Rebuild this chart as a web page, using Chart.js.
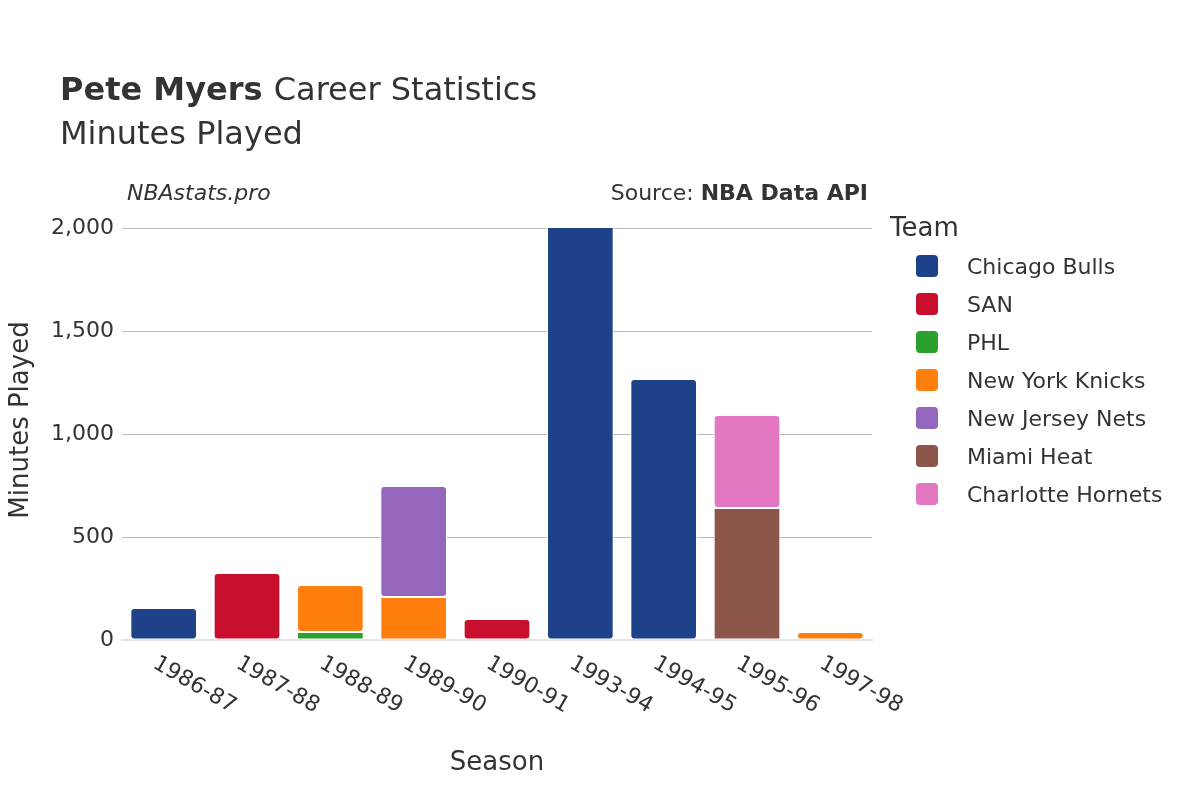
<!DOCTYPE html>
<html><head><meta charset="utf-8">
<script src="https://cdn.jsdelivr.net/npm/chart.js@4"></script>
<style>html,body{margin:0;padding:0;background:#fff}#w{width:1200px;height:800px}</style>
</head><body><div id="w"><canvas id="c" width="1200" height="800"></canvas></div>
<script>
const seasons = ["1986-87","1987-88","1988-89","1989-90","1990-91","1993-94","1994-95","1995-96","1997-98"];
const teams = ["Chicago Bulls","SAN","PHL","New York Knicks","New Jersey Nets","Miami Heat","Charlotte Hornets"];
const colors = ["#1d428a","#c8102e","#2ca02c","#ff7f0e","#9467bd","#8c564b","#e377c2"];
const bulls   = [155,null,null,null,null,2029,1267,null,null];
const san     = [null,325,null,null,102,null,null,null,null];
const phl     = [null,null,39,null,null,null,null,null,null];
const knicks  = [null,null,228,209,null,null,null,null,39];
const nets    = [null,null,null,539,null,null,null,null,null];
const heat    = [null,null,null,null,null,null,null,641,null];
const hornets = [null,null,null,null,null,null,null,451,null];
const yTicks = [0,500,1000,1500,2000];
const series = [bulls,san,phl,knicks,nets,heat,hornets];
const F = "DejaVu Sans";
const txt = {
  id:'txt',
  afterDraw(ch){
    const c=ch.ctx; c.save(); c.fillStyle="#333"; c.textBaseline="alphabetic";
    c.font="bold 32px "+F; c.fillText("Pete Myers",60,100);
    const w=c.measureText("Pete Myers ").width;
    c.font="32px "+F; c.fillText("Career Statistics",60+w,100);
    c.fillText("Minutes Played",60,144);
    c.font="italic 22px "+F; c.fillText("NBAstats.pro",127,200);
    c.font="bold 22px "+F; c.textAlign="right"; c.fillText("NBA Data API",868,200);
    const bw=c.measureText("NBA Data API").width;
    c.font="22px "+F; c.fillText("Source: ",868-bw,200);
    c.textAlign="center"; c.font="26px "+F; c.fillText("Season",497,770);
    c.save(); c.translate(28,420); c.rotate(-Math.PI/2); c.fillText("Minutes Played",0,0); c.restore();
    const xs=ch.scales.x;
    c.font="22px "+F; c.textAlign="left";
    seasons.forEach((s,i)=>{const x=xs.getPixelForTick(i);
      c.save(); c.translate(x-8,660); c.rotate(Math.PI/6); c.fillText(s,0,8); c.restore();});
    c.font="26px "+F; c.fillText("Team",890,236);
    c.font="22px "+F;
    teams.forEach((t,i)=>{const y=266+i*38;
      c.fillStyle=colors[i]; c.beginPath(); c.roundRect(916,y-11,22,22,4); c.fill();
      c.fillStyle="#333"; c.fillText(t,967,y+8);});
    c.restore();
  }
};
new Chart(document.getElementById('c'),{
  type:'bar',
  data:{labels:seasons,datasets:series.map((d,i)=>({label:teams[i],data:d,backgroundColor:colors[i],
    borderColor:"#fff",borderWidth:1,borderRadius:4,borderSkipped:false,barPercentage:0.8,categoryPercentage:1}))},
  options:{responsive:false,animation:false,
    layout:{padding:{left:0,top:228,right:328,bottom:0}},
    plugins:{legend:{display:false},tooltip:{enabled:false}},
    scales:{
      x:{stacked:true,grid:{display:false},border:{color:"#e5e5ee",width:2},ticks:{display:false},
        afterFit(s){s.height=160;}},
      y:{stacked:true,min:0,max:2000,afterFit(s){s.width=122;},
        afterBuildTicks(s){s.ticks=yTicks.map(v=>({value:v}));},
        grid:{color:"#bbb",drawTicks:false},border:{display:false},
        ticks:{color:"#333",font:{family:F,size:22},padding:8}}
    }},
  plugins:[txt]
});
</script></body></html>
